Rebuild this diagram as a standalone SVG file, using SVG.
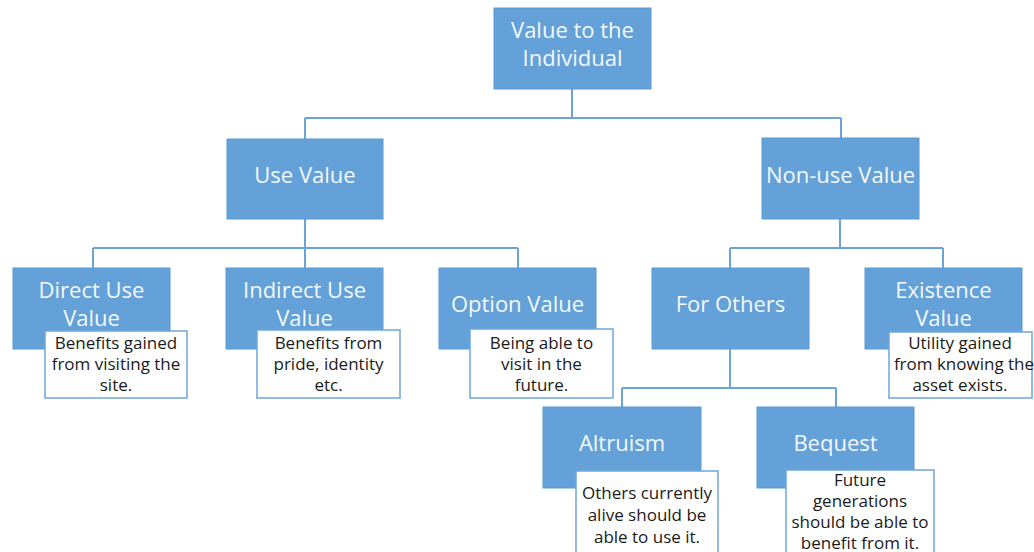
<svg xmlns="http://www.w3.org/2000/svg" width="1034" height="552" viewBox="0 0 1034 552">
<style>
.box{fill:#63A1D8;stroke:#5B9BD5;stroke-width:1}
.desc{fill:#FFFFFF;stroke:#6FA6DA;stroke-width:1.5}
.lbl{font-family:"Open Sans","Liberation Sans",sans-serif;font-size:22px;fill:#F4F8FC;text-anchor:middle}
.dt{font-family:"Open Sans","Liberation Sans",sans-serif;font-size:17px;fill:#1A1A1A;text-anchor:middle}
.con{fill:none;stroke:#6BA3D8;stroke-width:2}
</style>
<rect width="1034" height="552" fill="#FFFFFF"/>
<g id="connectors">
<path class="con" d="M572 89V118M305 118H841M305 118V139M841 118V138"/>
<path class="con" d="M305 219V248M93 248H518M93 248V268M305 248V268M518 248V268"/>
<path class="con" d="M840 219V248M730 248H943M730 248V268M943 248V268"/>
<path class="con" d="M730 349V388M622 388H836M622 388V407M836 388V407"/>
</g>
<g id="root">
<rect class="box" x="494" y="8" width="157" height="81"/>
<text class="lbl" x="572.5" y="38">Value to the</text>
<text class="lbl" x="572.5" y="66">Individual</text>
</g>
<g id="use-value">
<rect class="box" x="227" y="139" width="156" height="80"/>
<text class="lbl" x="305" y="183">Use Value</text>
</g>
<g id="non-use-value">
<rect class="box" x="762" y="138" width="157" height="81"/>
<text class="lbl" x="840.5" y="183">Non-use Value</text>
</g>
<g id="direct-use">
<rect class="box" x="13" y="268" width="157" height="81"/>
<text class="lbl" x="91.5" y="298">Direct Use</text>
<text class="lbl" x="91.5" y="326">Value</text>
<rect class="desc" x="45" y="331" width="142" height="67"/>
<text class="dt" x="116" y="349">Benefits gained</text>
<text class="dt" x="116" y="370">from visiting the</text>
<text class="dt" x="116" y="391">site.</text>
</g>
<g id="indirect-use">
<rect class="box" x="226" y="268" width="157" height="81"/>
<text class="lbl" x="304.5" y="298">Indirect Use</text>
<text class="lbl" x="304.5" y="326">Value</text>
<rect class="desc" x="257" y="330" width="143" height="68"/>
<text class="dt" x="328.5" y="349">Benefits from</text>
<text class="dt" x="328.5" y="370">pride, identity</text>
<text class="dt" x="328.5" y="391">etc.</text>
</g>
<g id="option-value">
<rect class="box" x="439" y="268" width="157" height="81"/>
<text class="lbl" x="517.5" y="312">Option Value</text>
<rect class="desc" x="470" y="329" width="143" height="69"/>
<text class="dt" x="541.5" y="349">Being able to</text>
<text class="dt" x="541.5" y="370">visit in the</text>
<text class="dt" x="541.5" y="391">future.</text>
</g>
<g id="for-others">
<rect class="box" x="652" y="268" width="157" height="81"/>
<text class="lbl" x="730.5" y="312">For Others</text>
</g>
<g id="existence-value">
<rect class="box" x="865" y="268" width="157" height="81"/>
<text class="lbl" x="943.5" y="298">Existence</text>
<text class="lbl" x="943.5" y="326">Value</text>
<rect class="desc" x="889" y="332" width="143" height="66"/>
<text class="dt" x="960" y="349">Utility gained</text>
<text class="dt" x="964" y="370">from knowing the</text>
<text class="dt" x="960" y="391">asset exists.</text>
</g>
<g id="altruism">
<rect class="box" x="543" y="407" width="158" height="81"/>
<text class="lbl" x="622" y="451">Altruism</text>
<rect class="desc" x="576" y="471" width="142" height="90"/>
<text class="dt" x="647" y="499">Others currently</text>
<text class="dt" x="647" y="521">alive should be</text>
<text class="dt" x="647" y="543">able to use it.</text>
</g>
<g id="bequest">
<rect class="box" x="757" y="407" width="157" height="81"/>
<text class="lbl" x="835.5" y="451">Bequest</text>
<rect class="desc" x="786" y="470" width="148" height="90"/>
<text class="dt" x="860" y="486">Future</text>
<text class="dt" x="860" y="507">generations</text>
<text class="dt" x="860" y="528">should be able to</text>
<text class="dt" x="860" y="549">benefit from it.</text>
</g>
</svg>
